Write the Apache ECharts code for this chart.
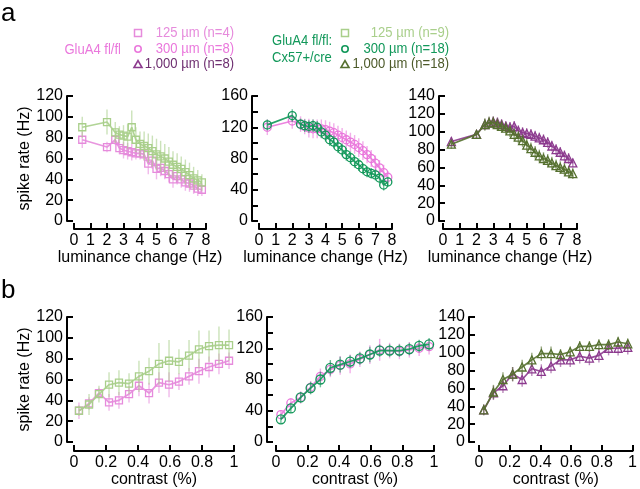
<!DOCTYPE html>
<html>
<head>
<meta charset="utf-8">
<script src="https://cdn.jsdelivr.net/npm/echarts@6/dist/echarts.min.js"></script>
<style>
  html, body { margin: 0; padding: 0; background: #fff; }
  #chart { width: 640px; height: 489px; }
</style>
</head>
<body>
<div id="chart"></div>
<script>
// luminance change (Hz) x values, panel a
const lumX = [0.5, 2, 2.5, 2.75, 3, 3.25, 3.5, 3.75, 4, 4.25, 4.5, 4.75, 5, 5.25, 5.5, 5.75, 6, 6.25, 6.5, 6.75, 7, 7.25, 7.5, 7.75];
const lumFlfl125 = [78, 71, 78, 70, 68, 67, 66, 65, 65, 64, 55, 58, 50, 51, 48, 45, 40, 43, 40, 37, 36, 34, 31, 30];
const lumFlfl125Err = [8, 5, 5, 6, 8, 8, 8, 6, 6, 6, 10, 8, 10, 8, 8, 8, 8, 8, 8, 8, 8, 8, 7, 6];
const lumCx125 = [90, 95, 85, 83, 82, 81, 90, 78, 74, 72, 70, 67, 64, 62, 60, 57, 54, 52, 50, 47, 44, 41, 39, 37];
const lumCx125Err = [10, 12, 10, 8, 10, 12, 16, 12, 12, 14, 14, 15, 15, 15, 14, 14, 13, 13, 12, 12, 12, 11, 10, 8];
const lumFlfl300 = [120, 128, 124, 121, 119, 118, 118, 118, 117, 115, 113, 110, 107, 104, 101, 98, 94, 90, 85, 80, 74, 68, 62, 56];
const lumFlfl300Err = [10, 10, 10, 10, 12, 12, 12, 12, 12, 12, 12, 12, 12, 12, 12, 12, 12, 12, 11, 11, 10, 10, 10, 8];
const lumCx300 = [123, 135, 124, 122, 121, 122, 120, 114, 110, 104, 101, 95, 91, 85, 81, 76, 72, 67, 63, 61, 59, 55, 46, 50];
const lumCx300Err = [7, 8, 7, 8, 8, 8, 8, 8, 8, 8, 8, 8, 8, 8, 8, 8, 8, 7, 7, 7, 7, 7, 7, 6];
const lumFlfl1000 = [89, 97, 108, 110, 111, 110, 108, 106, 105, 106, 101, 99, 98, 97, 95, 93, 91, 88, 84, 80, 77, 73, 70, 65];
const lumFlfl1000Err = [5, 4, 6, 6, 6, 6, 6, 6, 6, 6, 6, 6, 6, 6, 6, 6, 6, 6, 6, 6, 6, 6, 6, 5];
const lumCx1000 = [86, 97, 108, 110, 110, 108, 106, 104, 101, 97, 94, 90, 85, 81, 77, 73, 70, 68, 65, 62, 60, 58, 55, 53];
const lumCx1000Err = [5, 4, 7, 7, 7, 7, 7, 7, 7, 7, 7, 7, 7, 7, 7, 7, 7, 7, 7, 7, 7, 7, 7, 6];

// contrast x values, panel b
const contrastX = [0.031, 0.094, 0.156, 0.219, 0.281, 0.344, 0.406, 0.469, 0.531, 0.594, 0.656, 0.719, 0.781, 0.844, 0.906, 0.969];
const conFlfl125 = [30, 37, 47, 38, 40, 46, 54, 47, 57, 55, 58, 63, 68, 72, 75, 78];
const conFlfl125Err = [8, 6, 5, 8, 8, 8, 10, 10, 10, 12, 8, 8, 12, 10, 10, 8];
const conCx125 = [30, 36, 46, 55, 57, 56, 63, 68, 75, 78, 77, 83, 89, 92, 93, 93];
const conCx125Err = [5, 10, 8, 12, 12, 10, 15, 13, 20, 20, 12, 15, 18, 15, 18, 15];
const conFlfl300 = [35, 50, 57, 70, 84, 93, 98, 100, 106, 112, 118, 117, 116, 118, 120, 122];
const conFlfl300Err = [6, 6, 8, 8, 10, 10, 12, 12, 10, 12, 14, 10, 10, 10, 10, 10];
const conCx300 = [29, 43, 57, 69, 80, 95, 99, 103, 107, 112, 117, 117, 117, 119, 123, 125];
const conCx300Err = [5, 6, 7, 8, 10, 10, 10, 8, 8, 10, 8, 8, 8, 8, 8, 8];
const conFlfl1000 = [36, 55, 63, 76, 70, 82, 79, 85, 92, 92, 96, 94, 97, 105, 105, 106];
const conFlfl1000Err = [6, 8, 8, 8, 8, 8, 8, 8, 8, 8, 8, 8, 8, 8, 8, 8];
const conCx1000 = [36, 56, 70, 76, 84, 92, 99, 99, 98, 101, 107, 107, 109, 109, 112, 110];
const conCx1000Err = [6, 8, 8, 8, 8, 8, 8, 8, 6, 6, 6, 6, 6, 6, 6, 6];

const FONT = '"Liberation Sans", Arial, sans-serif';
const PINK125 = '#e68bdc';
const PINK300 = '#ea78dc';
const PURPLE = '#8c3a8e';
const LGREEN = '#a9cf8b';
const GREEN = '#12985a';
const OLIVE = '#55702f';

// panel layout
const panels = [
  { left: 74, top: 96, width: 132, height: 125, xMax: 8, xInt: 1, yMax: 120, every: 20, yOff: 7, xOff: 8, xName: 'luminance change (Hz)', yName: 'spike rate (Hz)' },
  { left: 259, top: 96, width: 133, height: 125, xMax: 8, xInt: 1, yMax: 160, every: 40, yOff: 7, xOff: 8, xName: 'luminance change (Hz)' },
  { left: 443, top: 96, width: 134, height: 125, xMax: 8, xInt: 1, yMax: 140, every: 20, yOff: 4, xOff: 8, xName: 'luminance change (Hz)' },
  { left: 74, top: 317, width: 160, height: 125, xMax: 1, xInt: 0.2, yMax: 120, every: 20, yOff: 7, xOff: 9, xName: 'contrast (%)', yName: 'spike rate (Hz)' },
  { left: 276, top: 317, width: 158, height: 125, xMax: 1, xInt: 0.2, yMax: 160, every: 40, yOff: 9, xOff: 9, xName: 'contrast (%)' },
  { left: 479, top: 317, width: 158, height: 125, xMax: 1, xInt: 0.2, yMax: 140, every: 20, yOff: 10, xOff: 9, xName: 'contrast (%)' }
];

const axLine = { color: '#000', width: 2 };
const grid = panels.map(p => ({ left: p.left, top: p.top, width: p.width, height: p.height }));
const xAxis = panels.map((p, i) => ({
  gridIndex: i, type: 'value', min: 0, max: p.xMax, interval: p.xInt,
  position: 'bottom', offset: p.xOff,
  axisLine: { onZero: false, lineStyle: axLine },
  axisTick: { inside: true, length: 6, lineStyle: axLine },
  axisLabel: { color: '#000', fontSize: 16, fontFamily: FONT, margin: 4 },
  splitLine: { show: false },
  name: p.xName, nameLocation: 'middle', nameGap: 21,
  nameTextStyle: { color: '#000', fontSize: 16, fontFamily: FONT }
}));
const yAxis = panels.map((p, i) => ({
  gridIndex: i, type: 'value', min: 0, max: p.yMax, interval: 20,
  position: 'left', offset: p.yOff,
  axisLine: { onZero: false, lineStyle: axLine },
  axisTick: { inside: true, length: 6, lineStyle: axLine },
  axisLabel: {
    color: '#000', fontSize: 16, fontFamily: FONT, margin: 4,
    formatter: v => (v % p.every === 0 ? String(v) : '')
  },
  splitLine: { show: false },
  name: p.yName || '', nameLocation: 'middle', nameGap: 29,
  nameTextStyle: { color: '#000', fontSize: 16, fontFamily: FONT }
}));

function fade(hex, a) {
  const n = parseInt(hex.slice(1), 16);
  return 'rgba(' + (n >> 16) + ',' + ((n >> 8) & 255) + ',' + (n & 255) + ',' + a + ')';
}

function errBars(gi, xs, ys, errs, color, z) {
  return {
    type: 'custom', xAxisIndex: gi, yAxisIndex: gi, z: z, silent: true,
    itemStyle: { color: fade(color, 0.6) },
    data: xs.map((x, i) => [x, ys[i] - errs[i], ys[i] + errs[i]]),
    renderItem: (params, api) => {
      const a = api.coord([api.value(0), api.value(1)]);
      const b = api.coord([api.value(0), api.value(2)]);
      return {
        type: 'line',
        shape: { x1: a[0], y1: a[1], x2: b[0], y2: b[1] },
        style: { stroke: api.visual('color'), lineWidth: 1.4 }
      };
    }
  };
}

function curve(gi, xs, ys, color, symbol, size, z) {
  return {
    type: 'line', xAxisIndex: gi, yAxisIndex: gi, z: z, silent: true,
    symbol: symbol, symbolSize: size, showAllSymbol: true,
    lineStyle: { color: fade(color, 0.9), width: 1.7 },
    itemStyle: { color: 'rgba(0,0,0,0)', borderColor: color, borderWidth: 1.3 },
    data: xs.map((x, i) => [x, ys[i]])
  };
}

const series = [
  errBars(0, lumX, lumFlfl125, lumFlfl125Err, PINK125, 2),
  curve(0, lumX, lumFlfl125, PINK125, 'rect', 7, 3),
  errBars(0, lumX, lumCx125, lumCx125Err, LGREEN, 4),
  curve(0, lumX, lumCx125, LGREEN, 'rect', 7, 5),

  errBars(1, lumX, lumFlfl300, lumFlfl300Err, PINK300, 2),
  curve(1, lumX, lumFlfl300, PINK300, 'circle', 8, 3),
  errBars(1, lumX, lumCx300, lumCx300Err, GREEN, 4),
  curve(1, lumX, lumCx300, GREEN, 'circle', 8, 5),

  errBars(2, lumX, lumFlfl1000, lumFlfl1000Err, PURPLE, 2),
  curve(2, lumX, lumFlfl1000, PURPLE, 'triangle', 8, 3),
  errBars(2, lumX, lumCx1000, lumCx1000Err, OLIVE, 4),
  curve(2, lumX, lumCx1000, OLIVE, 'triangle', 8, 5),

  errBars(3, contrastX, conFlfl125, conFlfl125Err, PINK125, 2),
  curve(3, contrastX, conFlfl125, PINK125, 'rect', 7, 3),
  errBars(3, contrastX, conCx125, conCx125Err, LGREEN, 4),
  curve(3, contrastX, conCx125, LGREEN, 'rect', 7, 5),

  errBars(4, contrastX, conFlfl300, conFlfl300Err, PINK300, 2),
  curve(4, contrastX, conFlfl300, PINK300, 'circle', 8, 3),
  errBars(4, contrastX, conCx300, conCx300Err, GREEN, 4),
  curve(4, contrastX, conCx300, GREEN, 'circle', 9, 5),

  errBars(5, contrastX, conFlfl1000, conFlfl1000Err, PURPLE, 2),
  curve(5, contrastX, conFlfl1000, PURPLE, 'triangle', 8, 3),
  errBars(5, contrastX, conCx1000, conCx1000Err, OLIVE, 4),
  curve(5, contrastX, conCx1000, OLIVE, 'triangle', 8, 5)
];

// legend text, slightly condensed like the original typeface
function txt(x, y, text, color, align, size, sx) {
  return {
    type: 'text', x: x, y: y, silent: true, scaleX: sx || 0.9,
    style: { text: text, fill: color, font: (size || 14.5) + 'px ' + FONT, textAlign: align || 'left', textVerticalAlign: 'middle' }
  };
}
function sq(cx, cy, color) {
  return { type: 'rect', shape: { x: cx - 3.5, y: cy - 3.5, width: 7, height: 7 }, style: { fill: 'none', stroke: color, lineWidth: 1.5 } };
}
function circ(cx, cy, color) {
  return { type: 'circle', shape: { cx: cx, cy: cy, r: 3.2 }, style: { fill: 'none', stroke: color, lineWidth: 1.6 } };
}
function tri(cx, cy, color) {
  return { type: 'polygon', shape: { points: [[cx - 4, cy + 3.5], [cx + 4, cy + 3.5], [cx, cy - 3.5]] }, style: { fill: 'none', stroke: color, lineWidth: 1.6 } };
}

const graphic = [
  txt(1, 14, 'a', '#000', 'left', 26, 1),
  txt(1, 291, 'b', '#000', 'left', 26, 1),
  txt(121, 50, 'GluA4 fl/fl', PINK300, 'right'),
  sq(138, 33, PINK125), circ(138, 49, PINK300), tri(138, 64, PURPLE),
  txt(234, 33, '125 µm (n=4)', PINK125, 'right'),
  txt(234, 49, '300 µm (n=8)', PINK300, 'right'),
  txt(234, 64, '1,000 µm (n=8)', '#6e2f70', 'right'),
  txt(272, 41, 'GluA4 fl/fl:', GREEN, 'left'),
  txt(272, 58, 'Cx57+/cre', GREEN, 'left'),
  sq(345, 33, LGREEN), circ(345, 49, GREEN), tri(345, 64, OLIVE),
  txt(449, 33, '125 µm (n=9)', LGREEN, 'right'),
  txt(449, 49, '300 µm (n=18)', GREEN, 'right'),
  txt(449, 64, '1,000 µm (n=18)', '#4d5a2a', 'right')
];

const chart = echarts.init(document.getElementById('chart'), null, { renderer: 'canvas' });
chart.setOption({
  animation: false,
  backgroundColor: '#fff',
  grid: grid,
  xAxis: xAxis,
  yAxis: yAxis,
  series: series,
  graphic: graphic
});
</script>
</body>
</html>
